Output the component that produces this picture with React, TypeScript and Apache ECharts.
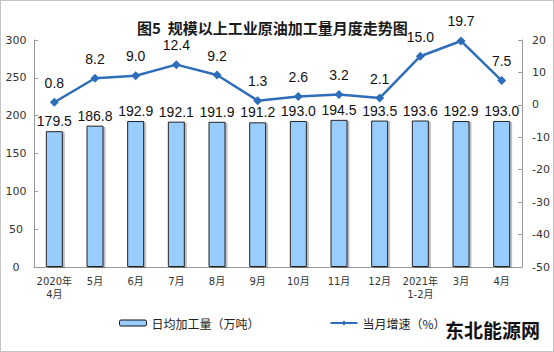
import React, { useEffect, useRef } from "react";
import * as echarts from "echarts";

const categories = ["2020年\n4月", "5月", "6月", "7月", "8月", "9月", "10月", "11月", "12月", "2021年\n1-2月", "3月", "4月"];
const dailyOutput = [179.5, 186.8, 192.9, 192.1, 191.9, 191.2, 193.0, 194.5, 193.5, 193.6, 192.9, 193.0];
const growth = [0.8, 8.2, 9.0, 12.4, 9.2, 1.3, 2.6, 3.2, 2.1, 15.0, 19.7, 7.5];
const barName = "日均加工量（万吨）";
const lineName = "当月增速（%）";
const titleText = "图5  规模以上工业原油加工量月度走势图";
const watermark = "东北能源网";

export default function App() {
  const ref = useRef<HTMLDivElement>(null);
  useEffect(() => {
    if (!ref.current) return;
    const chart = echarts.init(ref.current, null, { renderer: "svg" });
    const axisColor = "#9a9a9a";
    chart.setOption({
      animation: false,
      backgroundColor: "#fff",
      textStyle: { fontFamily: "Liberation Sans, Noto Sans CJK SC, sans-serif" },
      title: {
        text: titleText,
        left: 131,
        top: 14,
        textStyle: { fontSize: 15, fontWeight: "bold", color: "#1a1a1a", fontFamily: "Noto Sans CJK SC" },
      },
      legend: {
        left: 113,
        top: 311,
        itemWidth: 27,
        itemHeight: 6,
        itemGap: 70,
        textStyle: { fontSize: 12, color: "#222", fontFamily: "Noto Sans CJK SC" },
        data: [
          { name: barName, itemStyle: { color: "#99CCFF", borderColor: "#111", borderWidth: 1 } },
          { name: lineName },
        ],
      },
      grid: { left: 33, right: 31, top: 39, bottom: 84, containLabel: false },
      xAxis: {
        type: "category",
        data: categories,
        axisLine: { lineStyle: { color: axisColor } },
        axisTick: { inside: true, length: 3, lineStyle: { color: axisColor } },
        axisLabel: {
          interval: 0,
          fontSize: 10,
          color: "#333",
          fontFamily: "DejaVu Sans, Noto Sans CJK SC",
          lineHeight: 13,
          margin: 8,
        },
      },
      yAxis: [
        {
          type: "value",
          min: 0,
          max: 300,
          interval: 50,
          splitLine: { show: false },
          axisLine: { show: true, lineStyle: { color: axisColor } },
          axisTick: { show: true, inside: true, length: 4, lineStyle: { color: axisColor } },
          axisLabel: { fontSize: 11, color: "#333", align: "center", margin: 18, fontFamily: "DejaVu Sans" },
        },
        {
          type: "value",
          min: -50,
          max: 20,
          interval: 10,
          splitLine: { show: false },
          axisLine: { show: true, lineStyle: { color: axisColor } },
          axisTick: { show: true, inside: true, length: 4, lineStyle: { color: axisColor } },
          axisLabel: { fontSize: 11, color: "#333", align: "left", margin: 10, fontFamily: "DejaVu Sans" },
        },
      ],
      series: [
        {
          name: barName,
          type: "bar",
          data: dailyOutput,
          barWidth: 17,
          itemStyle: {
            color: "#99CCFF",
            borderColor: "#222",
            borderWidth: 1,
            shadowColor: "rgba(0,0,0,0.25)",
            shadowOffsetX: 2,
            shadowOffsetY: 1,
            shadowBlur: 1,
          },
          label: {
            show: true,
            position: "top",
            distance: 3,
            fontSize: 14,
            color: "#111",
            formatter: (p: any) => p.value.toFixed(1),
          },
        },
        {
          name: lineName,
          type: "line",
          yAxisIndex: 1,
          data: growth,
          symbol: "diamond",
          symbolSize: 9,
          lineStyle: { color: "#2E6DBA", width: 2.5 },
          itemStyle: { color: "#2E6DBA" },
          label: {
            show: true,
            position: "top",
            distance: 8,
            fontSize: 14,
            color: "#111",
            formatter: (p: any) => p.value.toFixed(1),
          },
        },
      ],
      graphic: [
        {
          type: "text",
          left: 444,
          top: 319,
          style: {
            text: watermark,
            fontSize: 19,
            fontWeight: "bold",
            fill: "#111",
            fontFamily: "Noto Sans CJK SC",
          },
        },
      ],
    });
    return () => chart.dispose();
  }, []);
  return (
    <div
      style={{
        position: "absolute",
        left: 0,
        top: 0,
        width: 552,
        height: 350,
        border: "1px solid #c4c4c4",
        background: "#fff",
      }}
    >
      <div ref={ref} style={{ width: 552, height: 350 }} />
    </div>
  );
}
